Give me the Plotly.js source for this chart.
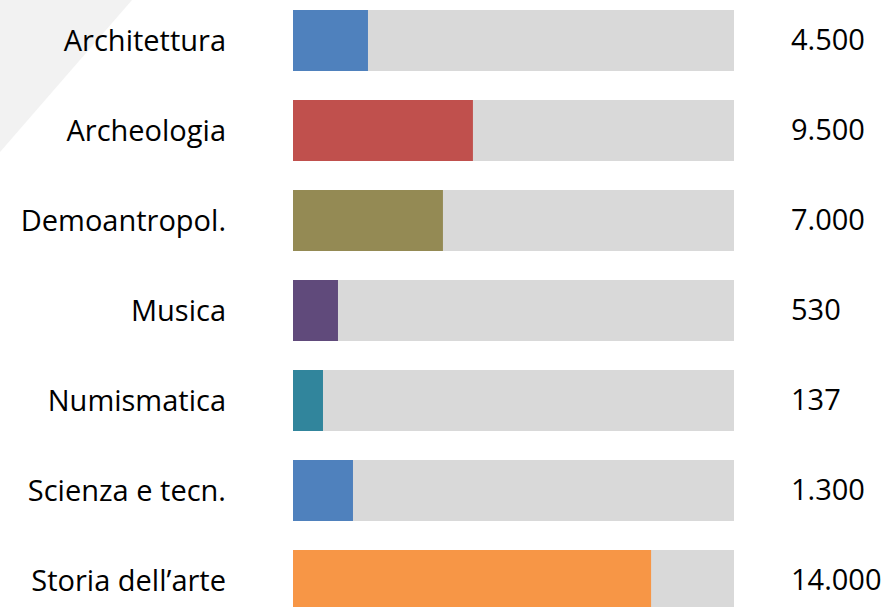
<!DOCTYPE html>
<html>
<head>
<meta charset="utf-8">
<script src="https://cdn.plot.ly/plotly-3.0.1.min.js"></script>
<style>html,body{margin:0;padding:0;background:#fff;}#chart{width:887px;height:607px;}</style>
</head>
<body>
<div id="chart"></div>
<script>
// ---- data ----
const categories = ["Architettura", "Archeologia", "Demoantropol.", "Musica", "Numismatica", "Scienza e tecn.", "Storia dell\u2019arte"];
const values = [4500, 9500, 7000, 530, 137, 1300, 14000];
// share of the grey track filled by each coloured bar
const fillShare = [0.170, 0.408, 0.340, 0.102, 0.068, 0.136, 0.812];
const colors = ["#4f81bd", "#c0504d", "#948a54", "#604a7b", "#31859c", "#4f81bd", "#f79646"];

function fmt(v) {
  return String(v).replace(/\B(?=(\d{3})+(?!\d))/g, ".");
}

const W = 887, H = 607;
const L = 293, R = 887 - 734;
const plotW = W - L - R;
const FONT = {family: "Open Sans", size: 29, color: "#000"};

const track = {
  type: "bar", orientation: "h",
  y: categories, x: categories.map(() => 1),
  marker: {color: "#d9d9d9"},
  hoverinfo: "skip", showlegend: false
};
const fill = {
  type: "bar", orientation: "h",
  y: categories, x: fillShare,
  marker: {color: colors},
  customdata: values,
  hovertemplate: "%{y}: %{customdata}<extra></extra>",
  showlegend: false
};

const annotations = categories.map((c, i) => ({
  xref: "paper", yref: "y",
  x: (789 - L) / plotW, y: c, yshift: 2,
  xanchor: "left", yanchor: "middle",
  text: fmt(values[i]), showarrow: false,
  font: FONT
}));

const layout = {
  width: W, height: H,
  margin: {l: L, r: R, t: 0, b: 0, pad: 0},
  paper_bgcolor: "#ffffff", plot_bgcolor: "rgba(0,0,0,0)",
  barmode: "overlay",
  bargap: 0.322,
  xaxis: {range: [0, 1], visible: false, fixedrange: true},
  yaxis: {
    type: "category", autorange: false,
    range: [H / 90 - 0.45, -0.45],
    showgrid: false, zeroline: false, showline: false,
    ticks: "", ticklabelstandoff: 66,
    tickfont: FONT
  },
  annotations: annotations,
  shapes: [{
    type: "path", xref: "paper", yref: "paper", layer: "below",
    path: `M ${(0 - L) / plotW} 1 L ${(132 - L) / plotW} 1 L ${(0 - L) / plotW} ${1 - 152 / H} Z`,
    fillcolor: "#f2f2f2", line: {width: 0}
  }]
};

Plotly.newPlot("chart", [track, fill], layout, {displayModeBar: false, staticPlot: true});
</script>
</body>
</html>
